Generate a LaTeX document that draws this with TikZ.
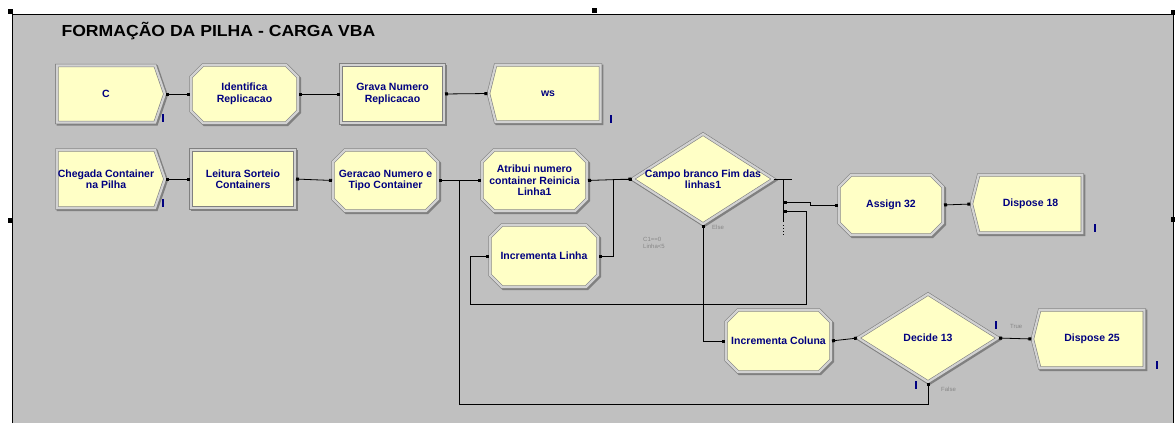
\documentclass[tikz,border=0pt]{standalone}
\usepackage{fontspec}
\setmainfont{Liberation Sans}
\newfontfamily\titlefont[FakeStretch=1.1]{Liberation Sans}
\usetikzlibrary{shapes.geometric,shapes.misc,shapes.symbols,arrows.meta}

\definecolor{fundo}{RGB}{192,192,192}
\definecolor{amarelo}{RGB}{255,255,198}
\definecolor{bevclaro}{RGB}{210,210,210}
\definecolor{bevescuro}{RGB}{128,128,128}
\definecolor{azul}{RGB}{0,0,128}
\definecolor{cinza}{RGB}{135,135,135}

\tikzset{
  txt/.style={text=azul, align=center, font=\fontsize{10.5}{11.5}\selectfont\bfseries},
  bloco/.style={txt, fill=amarelo, draw=bevescuro, double=bevclaro, double distance=2.2pt,
    line width=0.6pt, inner sep=1pt, outer sep=0pt,
    preaction={draw=bevescuro, line width=3.4pt, transform canvas={shift={(1.3pt,-1.3pt)}}}},
  processo/.style={bloco, rectangle},
  atribui/.style 2 args={bloco, chamfered rectangle, chamfered rectangle xsep=6pt,
    chamfered rectangle ysep=6pt, inner sep=0pt, text width=#1, text height=#2, text depth=#2},
  criar/.style={bloco, signal, signal to=east, signal pointer angle=142, inner xsep=-8pt},
  descarte/.style={bloco, signal, signal to=west, signal pointer angle=152},
  decide/.style={bloco, diamond, inner sep=0pt},
  conector/.style={line width=0.8pt, shorten <=1pt, shorten >=1pt,
    {Square[length=3pt,width=3pt]}-{Square[length=3pt,width=3pt]}},
  rotulo/.style={text=cinza, font=\fontsize{6}{7}\selectfont, inner sep=0pt, anchor=west},
}
% marca azul de animacao
\newcommand{\marca}[2]{\fill[azul] (#1-1.2,#2-4) rectangle (#1+1.2,#2+4);}

\begin{document}
\begin{tikzpicture}[x=1pt,y=-1pt]
\useasboundingbox (0,0) rectangle (1175,423);

% moldura da vista
\fill[fundo] (12,14) rectangle (1173,423);
\draw[line width=0.8pt] (12,423) -- (12,14) -- (1173,14) -- (1173,423);
\foreach \px/\py in {10/11, 594/10, 10/220, 1173/219, 1173/12}
  \fill (\px-2.5,\py-2.5) rectangle (\px+2.5,\py+2.5);

\node[anchor=west, font=\titlefont\bfseries\fontsize{16}{18}\selectfont] (titulo) at (58,31) {FORMAÇÃO DA PILHA - CARGA VBA};

% linha 1
\node[criar, minimum width=108pt, minimum height=57pt] (c) at (106,94) {C};
\node[atribui={95pt}{23pt},
  label={[txt]center:Identifica\\Replicacao}] (ident) at (244.5,94) {};
\node[processo, minimum width=103pt, minimum height=58pt] (grava) at (392.5,94) {Grava Numero\\Replicacao};
\node[descarte, minimum width=112pt, minimum height=57pt] (ws) at (548,93.5) {ws};

% linha 2
\node[criar, minimum width=108pt, minimum height=58pt] (cheg) at (106,179) {Chegada Container\\na Pilha};
\node[processo, minimum width=104pt, minimum height=58pt] (leit) at (243,179) {Leitura Sorteio\\Containers};
\node[atribui={93pt}{24.5pt},
  label={[txt]center:Geracao Numero e\\Tipo Container}] (ger) at (385.5,180.5) {};
\node[atribui={93pt}{24.5pt},
  label={[txt]center:Atribui numero\\container Reinicia\\Linha1}] (atrib) at (534.5,180.5) {};
\node[atribui={96pt}{25pt},
  label={[txt]center:Incrementa Linha}] (inclin) at (544,256) {};
\node[decide, minimum width=141pt, minimum height=90pt,
  label={[txt]center:Campo branco Fim das\\linhas1}] (campo) at (703,179) {};
\node[atribui={92pt}{24pt},
  label={[txt]center:Assign 32}] (assign) at (891,205) {};
\node[descarte, minimum width=111pt, minimum height=58pt] (disp18) at (1030.5,204) {Dispose 18};

% linha 3
\node[atribui={93pt}{25pt},
  label={[txt]center:Incrementa Coluna}] (inccol) at (778.5,341) {};
\node[decide, minimum width=140pt, minimum height=88pt,
  label={[txt]center:Decide 13}] (dec) at (928,338) {};
\node[descarte, minimum width=112pt, minimum height=58pt] (disp25) at (1092,339) {Dispose 25};

% saidas do decide n-way
\coordinate (s1) at (783,202);
\coordinate (s2) at (783,211);
\draw[line width=0.8pt] (campo.east) -- (792,179) (783,179) -- (783,222);
\draw[line width=1pt, dotted] (783,225) -- (783,236);

% conectores
\draw[conector] (c.east) -- (ident.west);
\draw[conector] (ident.east) -- (grava.west);
\draw[conector] (grava.east) -- (ws.west);
\draw[conector] (cheg.east) -- (leit.west);
\draw[conector] (leit.east) -- (ger.west);
\draw[conector] (ger.east) -- (atrib.west);
\draw[conector] (atrib.east) -- (campo.west);
\draw[conector] (inclin.east) -- (613,256) |- (campo.west);
\draw[conector] (s1) -- (810,202) |- (assign.west);
\draw[conector] (s2) -- (806,211) |- (470,304) |- (inclin.west);
\draw[conector] (campo.south) |- (inccol.west);
\draw[conector] (assign.east) -- (disp18.west);
\draw[conector] (inccol.east) -- (dec.west);
\draw[conector] (dec.east) -- (disp25.west);
\draw[conector] (dec.south) -- (928,404) -- (459,404) |- (atrib.west);

% rotulos
\node[rotulo] (lelse) at (712,227) {Else};
\node[rotulo, align=left] (lcond) at (643,243) {C1==0\\Linha<5};
\node[rotulo] (ltrue) at (1010,326) {True};
\node[rotulo] (lfalse) at (941,389) {False};

% marcas azuis
\marca{163}{118}
\marca{163}{203}
\marca{611}{119}
\marca{1095}{228}
\marca{1157}{365}
\marca{996}{325}
\marca{916}{385}
\end{tikzpicture}
\end{document}
